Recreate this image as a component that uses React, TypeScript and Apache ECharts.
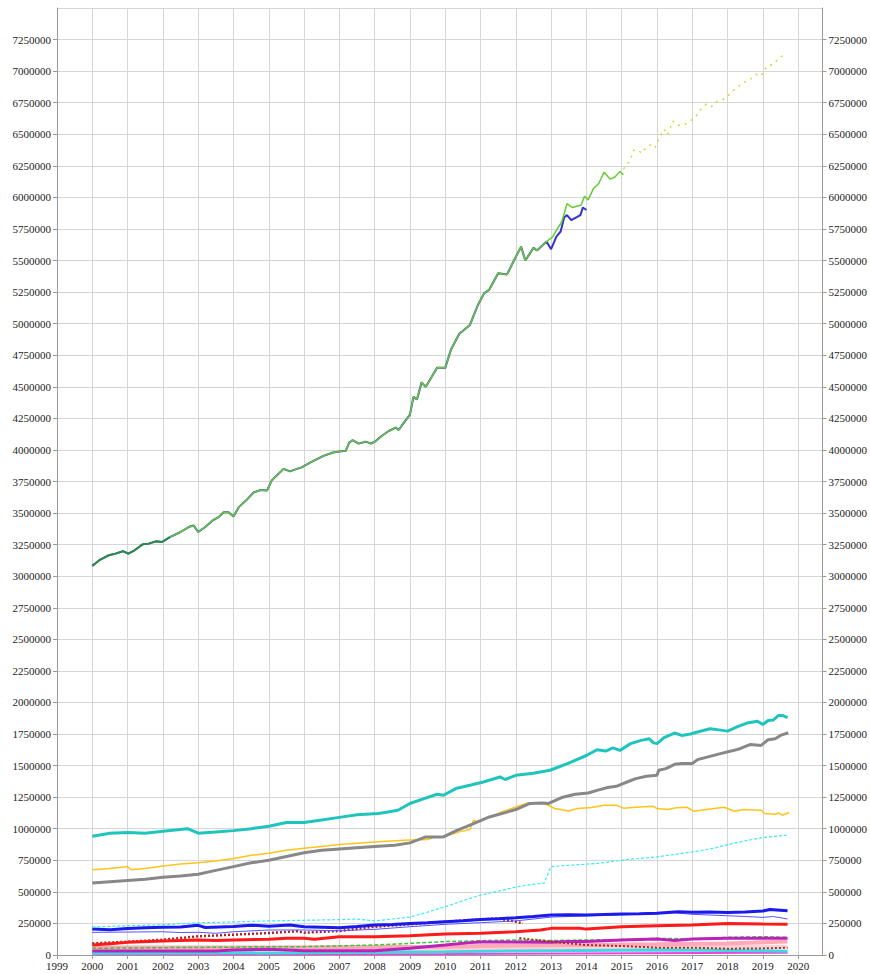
import React, { useEffect, useRef } from "react";
import * as echarts from "echarts";

type P = [number, number];

// Main (upper) series, shared part 2000-2012.9
const mainShared: P[] = [
  [2000.0, 3082000], [2000.2, 3127000], [2000.47, 3166000], [2000.66, 3179000], [2000.87, 3198000],
  [2001.02, 3179000], [2001.2, 3205000], [2001.43, 3253000], [2001.6, 3258000], [2001.8, 3276000],
  [2001.98, 3271000], [2002.2, 3310000], [2002.5, 3350000], [2002.77, 3394000], [2002.87, 3402000],
  [2003.0, 3350000], [2003.2, 3390000], [2003.4, 3440000], [2003.58, 3468000], [2003.72, 3507000],
  [2003.86, 3507000], [2004.0, 3473000], [2004.15, 3547000], [2004.4, 3612000], [2004.58, 3665000],
  [2004.77, 3683000], [2004.95, 3678000], [2005.08, 3757000], [2005.22, 3796000], [2005.42, 3850000],
  [2005.6, 3830000], [2005.8, 3850000], [2005.93, 3862000], [2006.17, 3900000], [2006.55, 3953000],
  [2006.82, 3980000], [2007.0, 3987000], [2007.18, 3993000], [2007.28, 4058000], [2007.37, 4077000],
  [2007.55, 4050000], [2007.75, 4066000], [2007.9, 4050000], [2008.03, 4070000], [2008.2, 4110000],
  [2008.4, 4150000], [2008.6, 4177000], [2008.68, 4158000], [2008.83, 4216000], [2009.0, 4280000],
  [2009.1, 4420000], [2009.2, 4400000], [2009.33, 4535000], [2009.45, 4500000], [2009.77, 4650000],
  [2010.0, 4650000], [2010.17, 4800000], [2010.4, 4920000], [2010.7, 4990000], [2010.93, 5150000],
  [2011.1, 5240000], [2011.25, 5270000], [2011.5, 5400000], [2011.75, 5390000], [2011.93, 5490000],
  [2012.15, 5610000], [2012.27, 5500000], [2012.5, 5600000], [2012.6, 5580000], [2012.87, 5650000],
];
const greenTail: P[] = [
  [2013.05, 5690000], [2013.15, 5740000], [2013.3, 5805000], [2013.45, 5950000], [2013.6, 5920000],
  [2013.85, 5940000], [2013.95, 6010000], [2014.05, 5980000], [2014.2, 6070000], [2014.35, 6110000],
  [2014.5, 6200000], [2014.67, 6145000], [2014.8, 6160000], [2014.95, 6205000], [2015.05, 6180000],
];
const blueTail: P[] = [
  [2013.0, 5590000], [2013.15, 5690000], [2013.27, 5730000], [2013.37, 5840000], [2013.45, 5860000],
  [2013.57, 5820000], [2013.83, 5860000], [2013.9, 5920000], [2014.0, 5900000],
];
const yellowDotted: P[] = [
  [2015.05, 6224000], [2015.15, 6260000], [2015.25, 6300000], [2015.33, 6370000], [2015.43, 6380000],
  [2015.57, 6350000], [2015.7, 6395000], [2015.85, 6420000], [2015.95, 6395000], [2016.05, 6460000],
  [2016.2, 6540000], [2016.3, 6495000], [2016.45, 6605000], [2016.6, 6570000], [2016.8, 6580000],
  [2016.95, 6605000], [2017.1, 6640000], [2017.2, 6685000], [2017.4, 6740000], [2017.55, 6720000],
  [2017.7, 6760000], [2017.85, 6770000], [2018.03, 6810000], [2018.17, 6850000], [2018.27, 6870000],
  [2018.45, 6910000], [2018.65, 6935000], [2018.8, 6975000], [2018.95, 6960000], [2019.03, 7005000],
  [2019.17, 7050000], [2019.27, 7050000], [2019.4, 7085000], [2019.55, 7120000], [2019.67, 7130000],
];

// Lower series
const teal: P[] = [
  [2000.0, 941000], [2000.5, 965000], [2001.0, 970000], [2001.5, 965000], [2002.0, 980000],
  [2002.7, 1000000], [2003.0, 965000], [2003.5, 975000], [2004.0, 985000], [2004.5, 1000000],
  [2005.0, 1020000], [2005.5, 1050000], [2006.0, 1050000], [2006.5, 1070000], [2007.0, 1090000],
  [2007.5, 1110000], [2008.1, 1120000], [2008.38, 1133000], [2008.66, 1146000], [2009.0, 1200000],
  [2009.4, 1239000], [2009.77, 1273000], [2009.95, 1265000], [2010.3, 1318000], [2010.7, 1344000],
  [2011.08, 1370000], [2011.55, 1410000], [2011.7, 1390000], [2012.0, 1423000], [2012.5, 1440000],
  [2012.97, 1463000], [2013.5, 1520000], [2014.0, 1580000], [2014.3, 1626000], [2014.55, 1615000],
  [2014.75, 1640000], [2014.95, 1620000], [2015.25, 1674000], [2015.55, 1700000], [2015.78, 1713000],
  [2015.9, 1680000], [2016.0, 1674000], [2016.2, 1721000], [2016.5, 1758000], [2016.7, 1739000],
  [2016.95, 1750000], [2017.15, 1766000], [2017.5, 1792000], [2017.7, 1785000], [2018.0, 1773000],
  [2018.3, 1810000], [2018.55, 1837000], [2018.85, 1852000], [2019.0, 1826000], [2019.15, 1857000],
  [2019.3, 1862000], [2019.45, 1897000], [2019.55, 1897000], [2019.7, 1879000],
];
const gray: P[] = [
  [2000.0, 570000], [2000.5, 580000], [2001.0, 590000], [2001.5, 600000], [2002.0, 615000],
  [2002.5, 625000], [2003.0, 640000], [2003.5, 670000], [2004.0, 700000], [2004.5, 730000],
  [2005.0, 750000], [2005.5, 780000], [2006.0, 810000], [2006.5, 830000], [2007.0, 840000],
  [2007.5, 850000], [2008.1, 862000], [2008.57, 870000], [2009.0, 888000], [2009.45, 935000],
  [2009.95, 935000], [2010.3, 983000], [2010.77, 1036000], [2011.25, 1093000], [2011.6, 1120000],
  [2012.0, 1152000], [2012.4, 1200000], [2012.75, 1204000], [2012.93, 1200000], [2013.3, 1247000],
  [2013.68, 1273000], [2014.05, 1283000], [2014.3, 1304000], [2014.6, 1326000], [2014.85, 1336000],
  [2015.15, 1370000], [2015.4, 1397000], [2015.7, 1415000], [2016.0, 1423000], [2016.05, 1463000],
  [2016.25, 1476000], [2016.5, 1510000], [2016.7, 1516000], [2017.0, 1516000], [2017.15, 1547000],
  [2017.5, 1573000], [2017.8, 1595000], [2018.1, 1615000], [2018.35, 1634000], [2018.65, 1668000],
  [2018.95, 1660000], [2019.15, 1705000], [2019.35, 1713000], [2019.5, 1739000], [2019.72, 1760000],
];
const orange: P[] = [
  [2000.0, 675000], [2000.5, 685000], [2001.0, 700000], [2001.1, 675000], [2001.5, 685000],
  [2002.0, 705000], [2002.5, 720000], [2003.0, 730000], [2003.5, 745000], [2004.0, 765000],
  [2004.5, 790000], [2005.0, 805000], [2005.5, 830000], [2006.0, 845000], [2006.5, 860000],
  [2007.0, 875000], [2007.5, 885000], [2008.1, 896000], [2008.85, 909000], [2009.5, 915000],
  [2009.7, 935000], [2009.95, 935000], [2010.4, 975000], [2010.7, 994000], [2010.8, 1067000],
  [2010.9, 1055000], [2011.15, 1080000], [2011.48, 1120000], [2011.6, 1133000], [2012.0, 1172000],
  [2012.35, 1204000], [2012.75, 1204000], [2012.93, 1186000], [2013.1, 1160000], [2013.5, 1141000],
  [2013.75, 1160000], [2014.15, 1168000], [2014.5, 1186000], [2014.85, 1186000], [2015.05, 1163000],
  [2015.4, 1170000], [2015.9, 1178000], [2016.0, 1160000], [2016.3, 1152000], [2016.55, 1167000],
  [2016.85, 1170000], [2017.05, 1138000], [2017.4, 1152000], [2017.9, 1170000], [2018.2, 1138000],
  [2018.45, 1152000], [2018.95, 1147000], [2019.05, 1120000], [2019.35, 1115000], [2019.45, 1125000],
  [2019.55, 1107000], [2019.75, 1128000],
];
const cyanDotted: P[] = [
  [2000.0, 222000], [2001.0, 232000], [2002.0, 240000], [2003.0, 255000], [2004.0, 262000],
  [2005.0, 270000], [2006.0, 275000], [2007.0, 280000], [2007.5, 285000], [2008.0, 270000],
  [2008.5, 285000], [2009.0, 300000], [2009.5, 340000], [2010.05, 387000], [2010.5, 430000],
  [2011.0, 474000], [2011.5, 505000], [2012.0, 538000], [2012.5, 561000], [2012.8, 569000],
  [2013.0, 700000], [2013.5, 710000], [2014.3, 725000], [2015.2, 757000], [2016.0, 777000],
  [2016.55, 798000], [2017.0, 817000], [2017.6, 844000], [2018.05, 878000], [2018.5, 904000],
  [2019.0, 931000], [2019.7, 949000],
];
const blueThick: P[] = [
  [2000.0, 205000], [2000.5, 200000], [2001.0, 210000], [2001.5, 215000], [2002.0, 220000],
  [2002.5, 222000], [2003.0, 235000], [2003.2, 218000], [2003.6, 222000], [2004.0, 225000],
  [2004.5, 236000], [2005.0, 228000], [2005.6, 238000], [2006.0, 224000], [2006.5, 220000],
  [2007.0, 216000], [2007.5, 225000], [2008.0, 237000], [2008.5, 242000], [2009.0, 250000],
  [2009.5, 255000], [2010.0, 264000], [2010.5, 272000], [2011.0, 282000], [2011.5, 288000],
  [2012.0, 295000], [2012.5, 305000], [2013.0, 316000], [2013.5, 318000], [2014.0, 316000],
  [2014.5, 320000], [2015.0, 324000], [2015.5, 326000], [2016.0, 330000], [2016.6, 343000],
  [2017.0, 338000], [2017.5, 340000], [2018.0, 337000], [2018.5, 340000], [2019.0, 348000],
  [2019.2, 361000], [2019.5, 355000], [2019.7, 351000],
];
const blueThin: P[] = [
  [2000.0, 179000], [2001.0, 182000], [2002.0, 184000], [2002.5, 178000], [2003.0, 180000],
  [2003.5, 172000], [2004.0, 184000], [2005.0, 198000], [2006.0, 198000], [2007.0, 192000],
  [2008.0, 203000], [2009.0, 224000], [2010.0, 243000], [2011.0, 256000], [2012.0, 270000],
  [2013.0, 300000], [2014.0, 310000], [2015.0, 318000], [2016.0, 328000], [2016.5, 335000],
  [2017.0, 322000], [2018.0, 311000], [2018.5, 305000], [2019.0, 298000], [2019.3, 305000],
  [2019.7, 285000],
];
const redThick: P[] = [
  [2000.0, 79000], [2000.5, 90000], [2001.0, 100000], [2002.0, 111000], [2003.0, 119000],
  [2003.5, 115000], [2004.0, 119000], [2005.0, 124000], [2005.5, 132000], [2006.0, 132000],
  [2006.3, 125000], [2007.0, 145000], [2008.0, 145000], [2009.0, 153000], [2010.0, 166000],
  [2011.0, 172000], [2012.0, 185000], [2012.7, 198000], [2013.0, 211000], [2013.8, 212000],
  [2014.0, 205000], [2015.0, 224000], [2016.0, 232000], [2017.0, 237000], [2018.0, 250000],
  [2019.0, 245000], [2019.7, 243000],
];
const darkRedA: P[] = [
  [2000.0, 92000], [2001.0, 105000], [2002.0, 121000], [2003.0, 148000], [2004.0, 161000],
  [2005.0, 174000], [2005.8, 188000], [2006.0, 177000], [2007.0, 190000], [2008.0, 224000],
  [2009.0, 243000], [2010.0, 264000], [2011.0, 282000], [2011.5, 290000], [2012.0, 264000],
  [2012.2, 250000],
];
const darkRedB: P[] = [
  [2012.1, 134000], [2013.0, 106000], [2014.0, 79000], [2015.0, 71000], [2016.0, 58000],
  [2017.0, 58000], [2018.0, 50000], [2019.0, 52000], [2019.7, 58000],
];
const greenDashed: P[] = [
  [2000.0, 53000], [2002.0, 58000], [2004.0, 62000], [2005.0, 66000], [2006.0, 66000],
  [2008.0, 79000], [2009.0, 92000], [2010.0, 106000], [2011.0, 113000], [2012.0, 119000],
  [2013.0, 115000], [2014.0, 119000], [2015.0, 122000], [2016.0, 132000], [2017.0, 128000],
  [2018.0, 140000], [2019.0, 145000], [2019.7, 140000],
];
const magenta: P[] = [
  [2000.0, 32000], [2003.5, 32000], [2004.0, 40000], [2005.0, 45000], [2006.0, 34000],
  [2008.0, 34000], [2009.0, 53000], [2010.0, 79000], [2010.7, 98000], [2011.0, 103000],
  [2012.0, 103000], [2013.0, 100000], [2013.5, 106000], [2014.0, 106000], [2015.0, 119000],
  [2016.0, 127000], [2016.5, 115000], [2017.0, 127000], [2018.0, 132000], [2019.0, 132000],
  [2019.7, 132000],
];
const pinkBand: P[] = [
  [2000.0, 60000], [2005.0, 60000], [2010.0, 66000], [2012.0, 75000], [2014.0, 79000],
  [2016.0, 85000], [2018.0, 92000], [2019.7, 106000],
];
const lightPink: P[] = [
  [2000.0, 45000], [2005.0, 45000], [2010.0, 50000], [2014.0, 60000], [2019.7, 66000],
];
const cyanLow: P[] = [
  [2000.0, 13000], [2006.0, 18000], [2010.0, 26000], [2013.0, 34000], [2016.0, 40000],
  [2019.0, 34000], [2019.7, 30000],
];
const magentaLow: P[] = [
  [2000.0, 5000], [2010.0, 8000], [2019.7, 18000],
];

const FONT = "Liberation Serif";

function line(name: string, data: P[], color: string, width: number, type: any = "solid", z = 2) {
  return {
    name,
    type: "line",
    data,
    showSymbol: false,
    symbol: "none",
    z,
    lineStyle: { color, width, type },
    itemStyle: { color },
  };
}

export default function App() {
  const ref = useRef<HTMLDivElement>(null);
  useEffect(() => {
    if (!ref.current) return;
    const chart = echarts.init(ref.current, undefined, { renderer: "svg" });
    const yAxisBase = {
      type: "value",
      min: 0,
      max: 7500000,
      interval: 250000,
      axisLine: { show: true, lineStyle: { color: "#999" } },
      axisTick: { show: true, length: 4, lineStyle: { color: "#999" } },
      axisLabel: {
        showMaxLabel: false,
        fontFamily: FONT,
        fontSize: 11,
        color: "#222",
        margin: 6,
        formatter: (v: number) => String(v),
      },
    };
    chart.setOption({
      animation: false,
      backgroundColor: "#fff",
      grid: { left: 57, right: 44, top: 8, bottom: 19, containLabel: false },
      xAxis: {
        type: "value",
        min: 1999,
        max: 2020.69,
        interval: 1,
        axisLine: { show: true, onZero: false, lineStyle: { color: "#999" } },
        axisTick: { show: true, length: 4, lineStyle: { color: "#999" } },
        splitLine: { show: true, lineStyle: { color: "#d6d6d6", width: 1 } },
        axisLabel: {
          fontFamily: FONT,
          fontSize: 11,
          color: "#222",
          margin: 5,
          showMaxLabel: false,
          formatter: (v: number) => (Number.isInteger(v) ? String(v) : ""),
        },
      },
      yAxis: [
        { ...yAxisBase, position: "left", splitLine: { show: true, lineStyle: { color: "#d6d6d6", width: 1 } } },
        { ...yAxisBase, position: "right", splitLine: { show: false } },
      ],
      series: [
        line("lightPink", lightPink, "#ffd0d8", 4),
        line("pinkBand", pinkBand, "#ffa8b8", 4),
        line("magentaLow", magentaLow, "#ee44dd", 2),
        line("cyanLow", cyanLow, "#40d8e0", 3),
        line("greenDashed", greenDashed, "#33cc33", 1.5, [4, 2]),
        line("magenta", magenta, "#bb22bb", 3),
        line("darkRedB", darkRedB, "#a03020", 2, [2, 2]),
        line("darkRedA", darkRedA, "#b02020", 2.5, [2, 2]),
        line("redThick", redThick, "#ff1a1a", 3),
        line("blueThin", blueThin, "#5555ff", 1),
        line("blueThick", blueThick, "#1a1aee", 3),
        line("cyanDotted", cyanDotted, "#33eeee", 1.2, [3, 2]),
        line("orange", orange, "#ffc41a", 1.5),
        line("gray", gray, "#888888", 3),
        line("teal", teal, "#1fc4bc", 3),
        line("blue", [...mainShared, ...blueTail], "#3333cc", 2, "solid", 3),
        line("green", [...mainShared, ...greenTail], "#66cc33", 1.5, "solid", 4),
        line("darkGreen", mainShared.filter((p) => p[0] <= 2002.2), "#2a8a4a", 1.8, "solid", 5),
        line("yellowDotted", yellowDotted, "#d4d43a", 1.5, [2, 5], 4),
      ],
    });
    return () => chart.dispose();
  }, []);
  return (
    <div
      ref={ref}
      style={{ position: "fixed", left: 0, top: 0, width: 870, height: 974, background: "#fff" }}
    />
  );
}
